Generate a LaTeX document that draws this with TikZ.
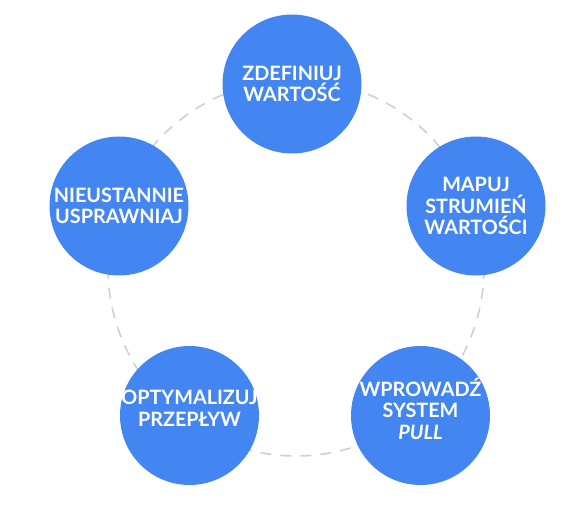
\documentclass[tikz,border=0pt]{standalone}
\usepackage{fontspec}
\setmainfont{Lato}
\definecolor{cblue}{HTML}{4385F1}
\definecolor{dgray}{HTML}{CFCFDC}
\begin{document}
\begin{tikzpicture}[x=1pt,y=-1pt,
  stage/.style={circle,fill=cblue,minimum size=139pt,inner sep=0pt},
  lbl/.style={text=white,font=\bfseries\fontsize{19.8}{21.5}\selectfont,align=center,inner sep=0pt},
  ring/.style={draw=dgray,line width=1.6pt,dash pattern=on 11pt off 9pt}]
\useasboundingbox (0,0) rectangle (576,513);
\draw[ring] (296,268) circle[radius=188];
\node[stage] (s1) at (292,84) {};
\node[stage] (s2) at (476,206) {};
\node[stage] (s3) at (420.5,415.5) {};
\node[stage] (s4) at (189.5,415.5) {};
\node[stage] (s5) at (119,206) {};
\node[lbl] (t1) at (s1) {ZDEFINIUJ\\WARTOŚĆ};
\node[lbl] (t2) at (s2) {MAPUJ\\STRUMIEŃ\\WARTOŚCI};
\node[lbl] (t3) at ([yshift=7pt]s3.center) {WPROWADŹ\\SYSTEM\\\textit{PULL}};
\node[lbl] (t4) at ([yshift=7pt]s4.center) {OPTYMALIZUJ\\PRZEPŁYW};
\node[lbl] (t5) at (s5) {NIEUSTANNIE\\USPRAWNIAJ};
\end{tikzpicture}
\end{document}
